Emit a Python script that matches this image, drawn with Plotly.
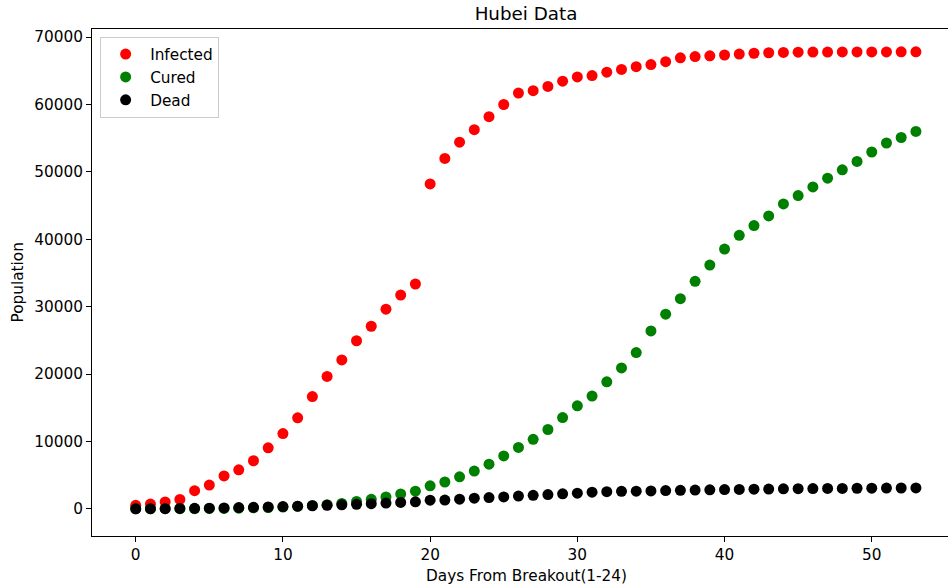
import plotly.graph_objects as go

# Days since the outbreak began (index 0..53)
days = list(range(54))

infected = [
    549, 729, 1052, 1423, 2714, 3554, 4900, 5806, 7153, 9074,
    11177, 13522, 16678, 19665, 22112, 24953, 27100, 29631, 31728, 33366,
    48206, 51986, 54406, 56249, 58182, 59989, 61682, 62031, 62662, 63454,
    64084, 64287, 64786, 65187, 65596, 65914, 66337, 66907, 67103, 67217,
    67332, 67466, 67592, 67666, 67707, 67743, 67760, 67773, 67781, 67786,
    67790, 67794, 67798, 67799,
]

cured = [
    31, 32, 42, 44, 47, 80, 90, 116, 166, 215,
    295, 396, 520, 633, 817, 1115, 1439, 1795, 2222, 2639,
    3441, 4000, 4774, 5623, 6639, 7862, 9128, 10337, 11788, 13557,
    15299, 16748, 18854, 20912, 23200, 26403, 28895, 31187, 33757, 36167,
    38556, 40592, 42033, 43468, 45235, 46488, 47765, 49056, 50298, 51553,
    52943, 54278, 55094, 56003,
]

dead = [
    24, 39, 52, 76, 100, 125, 162, 204, 249, 294,
    350, 414, 479, 549, 618, 699, 780, 871, 974, 1068,
    1310, 1318, 1457, 1596, 1696, 1789, 1921, 2029, 2144, 2250,
    2346, 2495, 2563, 2615, 2641, 2682, 2727, 2761, 2803, 2834,
    2871, 2902, 2931, 2959, 2986, 3007, 3024, 3046, 3056, 3075,
    3085, 3099, 3111, 3122,
]

x_ticks = [0, 10, 20, 30, 40, 50]
y_ticks = [0, 10000, 20000, 30000, 40000, 50000, 60000, 70000]

FONT = "DejaVu Sans"
FS = 15.3
W, H = 948, 587
L, R, T, B = 92, 0, 29, 51

fig = go.Figure()
for name, values, color in [
    ("Infected", infected, "#ff0000"),
    ("Cured", cured, "#008000"),
    ("Dead", dead, "#000000"),
]:
    fig.add_trace(go.Scatter(
        x=days, y=values, name=name, mode="markers", legendgroup=name,
        marker=dict(color=color, size=11, line=dict(width=0)),
    ))

axis_common = dict(
    showgrid=False, zeroline=False, showline=True, linecolor="black",
    linewidth=1, ticks="outside", ticklen=5, tickwidth=1, tickcolor="black",
    tickfont=dict(family=FONT, size=FS, color="black"),
)

fig.update_layout(
    width=W, height=H,
    margin=dict(l=L, r=R, t=T, b=B),
    paper_bgcolor="white", plot_bgcolor="white",
    font=dict(family=FONT, size=FS, color="black"),
    xaxis=dict(range=[-2.97, 55.18], tickvals=x_ticks, mirror=True, **axis_common),
    yaxis=dict(range=[-4007, 71187], tickvals=y_ticks, tickformat="d", **axis_common),
    showlegend=True,
    legend=dict(
        x=0.0095, y=0.985, xanchor="left", yanchor="top",
        bgcolor="rgba(255,255,255,0.8)", bordercolor="#cccccc", borderwidth=1,
        font=dict(family=FONT, size=FS, color="black"),
        tracegroupgap=0, itemsizing="trace", itemwidth=39,
    ),
    title=dict(
        text="Hubei Data", x=526 / W, xref="container", xanchor="center",
        y=1 - 14 / H, yref="container", yanchor="middle",
        font=dict(family=FONT, size=18.3, color="black"),
    ),
    annotations=[
        dict(text="Days From Breakout(1-24)", xref="paper", yref="paper",
             x=(526 - L) / (W - L - R), y=-(576 - (H - B)) / (H - T - B),
             xanchor="center", yanchor="middle", showarrow=False,
             font=dict(family=FONT, size=FS, color="black")),
        dict(text="Population", xref="paper", yref="paper",
             x=-(L - 17) / (W - L - R), y=0.5, textangle=-90,
             xanchor="center", yanchor="middle", showarrow=False,
             font=dict(family=FONT, size=FS, color="black")),
    ],
)

fig.write_html("out.html")
